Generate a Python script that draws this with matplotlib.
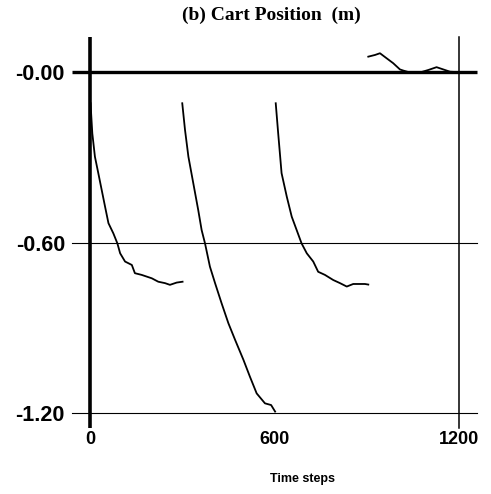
import matplotlib.pyplot as plt

# Valeurs (pas de temps, position du chariot en m)
run1_t = [2, 3, 7.5, 16, 27, 38, 49, 60, 76, 89, 98, 114, 136, 146, 168, 201, 222,
          244, 260, 282, 301]
run1_x = [-0.11, -0.134, -0.216, -0.298, -0.356, -0.415, -0.474, -0.532, -0.568,
          -0.603, -0.638, -0.667, -0.679, -0.708, -0.714, -0.726, -0.738, -0.743,
          -0.749, -0.741, -0.738]

run2_t = [300, 309, 320, 336, 352, 363, 374, 390, 407, 428, 450, 472, 499, 520, 542,
          569, 589, 602]
run2_x = [-0.110, -0.204, -0.298, -0.392, -0.486, -0.556, -0.603, -0.685, -0.744,
          -0.814, -0.884, -0.943, -1.013, -1.072, -1.131, -1.166, -1.172, -1.195]

run3_t = [604, 612, 623, 640, 656, 672, 688, 705, 726, 742, 764, 791, 813, 835, 856,
          894, 905]
run3_x = [-0.110, -0.216, -0.356, -0.439, -0.509, -0.556, -0.603, -0.638, -0.667,
          -0.703, -0.714, -0.732, -0.743, -0.755, -0.746, -0.746, -0.748]

run4_t = [905, 927, 943, 965, 986, 1008, 1019, 1035, 1078, 1100, 1127, 1149, 1171,
          1190, 1200]
run4_x = [0.054, 0.060, 0.066, 0.048, 0.031, 0.009, 0.005, 0.0, 0.0, 0.007, 0.017,
          0.009, 0.001, 0.0, 0.0]

xticks = [0, 600, 1200]
xlabels = ["0", "600", "1200"]
yticks = [0.0, -0.6, -1.2]
ylabels = ["-0.00", "-0.60", "-1.20"]

fig = plt.figure(figsize=(4.91, 4.94), dpi=100)
ax = fig.add_axes([90 / 491, 81 / 494, 369 / 491, 341 / 494])
ax.set_xlim(0, 1200)
ax.set_ylim(-1.2, 0.0)
for s in ax.spines.values():
    s.set_visible(False)

# Axes dessines a la main
ax.plot([-58, 1260], [0, 0], color="black", lw=2.4, clip_on=False, solid_capstyle="butt")
ax.plot([-58, 1260], [-0.6, -0.6], color="black", lw=0.8, clip_on=False)
ax.plot([-58, 1258], [-1.2, -1.2], color="black", lw=0.8, clip_on=False)
ax.plot([0, 0], [0.123, -1.253], color="black", lw=2.6, clip_on=False, solid_capstyle="butt")
ax.plot([1200, 1200], [0.123, -1.253], color="black", lw=1.1, clip_on=False)

for t, x in [(run1_t, run1_x), (run2_t, run2_x), (run3_t, run3_x), (run4_t, run4_x)]:
    ax.plot(t, x, color="black", lw=1.3, clip_on=False, solid_joinstyle="round")

ax.set_xticks(xticks)
ax.set_xticklabels(xlabels, fontsize=13, fontweight="bold", family="Liberation Sans")
ax.set_yticks(yticks)
ax.set_yticklabels(ylabels, fontsize=15.5, fontweight="bold", family="Liberation Sans")
ax.tick_params(axis="x", length=0, pad=13)
ax.tick_params(axis="y", length=0, pad=18)

fig.text(271 / 491, 1 - 15 / 494, "(b) Cart Position  (m)", ha="center", va="center",
         fontsize=14, fontweight="bold", family="Liberation Serif")
fig.text(302 / 491, 1 - 479 / 494, "Time steps", ha="center", va="center",
         fontsize=9, fontweight="bold", family="Liberation Sans")

fig.savefig("out.png", dpi=100)
